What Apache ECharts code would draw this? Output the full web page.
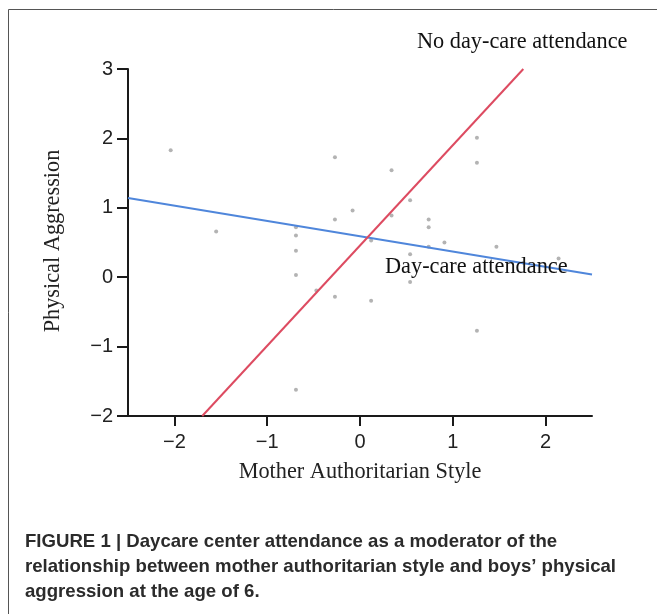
<!DOCTYPE html>
<html>
<head>
<meta charset="utf-8">
<script src="https://cdn.jsdelivr.net/npm/echarts@6/dist/echarts.min.js"></script>
<style>html,body{margin:0;padding:0;background:#fff}#c{width:657px;height:614px}</style>
</head>
<body>
<div id="c"></div>
<script>
// Data
const xTicks = [-2, -1, 0, 1, 2];
const yTicks = [-2, -1, 0, 1, 2, 3];
const pointsX = [-2.04, -0.27, -0.08, -0.27, -1.55, -0.69, -0.69, -0.69, -0.69, -0.27,
                 1.26, 1.26, 0.34, 0.54, 0.34, 0.74, 0.74, 0.12, 0.91, 0.74,
                 1.47, 0.54, 2.14, 1.76, 0.54, 0.12, 1.26, -0.69, -0.47];
const pointsY = [1.83, 1.73, 0.96, 0.83, 0.66, 0.72, 0.60, 0.38, 0.03, -0.28,
                 2.01, 1.65, 1.54, 1.11, 0.89, 0.83, 0.72, 0.53, 0.50, 0.44,
                 0.44, 0.33, 0.27, 0.21, -0.07, -0.34, -0.77, -1.62, -0.19];
const dayCareX = [-2.5, 2.5];
const dayCareY = [1.14, 0.04];
const noDayCareX = [-1.70, 1.76];
const noDayCareY = [-2, 3];

const zip = (a, b) => a.map((v, i) => [v, b[i]]);

const chart = echarts.init(document.getElementById('c'));
const serif = '"Liberation Serif", "Times New Roman", serif';
const sans = '"Liberation Sans", Arial, sans-serif';
const minusFmt = v => (v < 0 ? '\u2212' + Math.abs(v) : String(v));

chart.setOption({
  animation: false,
  backgroundColor: '#fff',
  grid: { left: 128, right: 65, top: 69, bottom: 198, containLabel: false },
  xAxis: {
    type: 'value', min: -2.5, max: 2.5,
    axisLine: { show: true, onZero: false, lineStyle: { color: '#1a1a1a', width: 2 } },
    axisTick: { show: true, length: 10, customValues: xTicks, lineStyle: { color: '#1a1a1a', width: 2 } },
    axisLabel: { customValues: xTicks, color: '#222', fontSize: 20, fontFamily: sans, margin: 16,
      formatter: minusFmt },
    splitLine: { show: false }
  },
  yAxis: {
    type: 'value', min: -2, max: 3, interval: 1,
    axisLine: { show: true, onZero: false, lineStyle: { color: '#1a1a1a', width: 2 } },
    axisTick: { show: true, length: 11, lineStyle: { color: '#1a1a1a', width: 2 } },
    axisLabel: { color: '#222', fontSize: 20, fontFamily: sans, margin: 15,
      formatter: minusFmt },
    splitLine: { show: false }
  },
  series: [
    { type: 'scatter', data: zip(pointsX, pointsY), symbolSize: 4,
      itemStyle: { color: '#a0a0a0' }, z: 2 },
    { type: 'line', data: zip(dayCareX, dayCareY), showSymbol: false, symbol: 'none',
      lineStyle: { color: '#4f86db', width: 2 }, z: 3 },
    { type: 'line', data: zip(noDayCareX, noDayCareY), showSymbol: false, symbol: 'none',
      lineStyle: { color: '#dd4b61', width: 2 }, z: 3 }
  ],
  graphic: [
    { type: 'rect', shape: { x: 8.5, y: 9.5, width: 700, height: 700 },
      style: { fill: 'none', stroke: '#555', lineWidth: 1 }, z: 0, silent: true },
    { type: 'text', x: 417, y: 42, z: 10,
      style: { text: 'No day-care attendance', font: '22.3px ' + serif, fill: '#111',
        textAlign: 'left', textVerticalAlign: 'middle' } },
    { type: 'text', x: 385, y: 267, z: 10,
      style: { text: 'Day-care attendance', font: '22.3px ' + serif, fill: '#111',
        textAlign: 'left', textVerticalAlign: 'middle' } },
    { type: 'text', x: 360, y: 472, z: 10,
      style: { text: 'Mother Authoritarian Style', font: '22.3px ' + serif, fill: '#222',
        textAlign: 'center', textVerticalAlign: 'middle' } },
    { type: 'text', x: 53, y: 241, rotation: Math.PI / 2, z: 10,
      style: { text: 'Physical Aggression', font: '22.3px ' + serif, fill: '#222',
        textAlign: 'center', textVerticalAlign: 'middle' } },
    { type: 'text', x: 25, y: 542, z: 10,
      style: { text: 'FIGURE 1 | Daycare center attendance as a moderator of the', font: 'bold 18.6px ' + sans, fill: '#2b2b2b',
        textAlign: 'left', textVerticalAlign: 'middle' } },
    { type: 'text', x: 25, y: 567, z: 10,
      style: { text: 'relationship between mother authoritarian style and boys\u2019 physical', font: 'bold 18.6px ' + sans, fill: '#2b2b2b',
        textAlign: 'left', textVerticalAlign: 'middle' } },
    { type: 'text', x: 25, y: 592, z: 10,
      style: { text: 'aggression at the age of 6.', font: 'bold 18.6px ' + sans, fill: '#2b2b2b',
        textAlign: 'left', textVerticalAlign: 'middle' } }
  ]
});
</script>
</body>
</html>
